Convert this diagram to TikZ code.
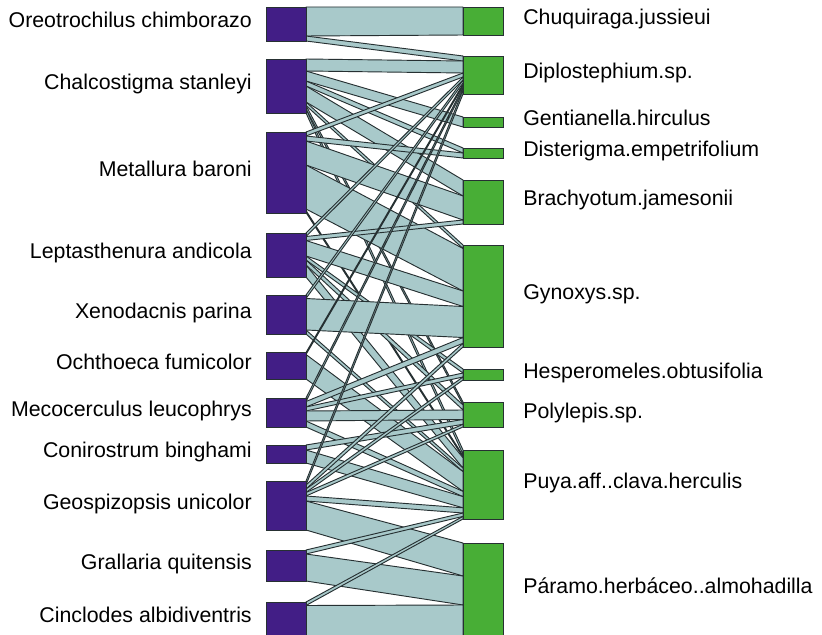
\documentclass[tikz,border=0pt]{standalone}
\usepackage{fontspec}
\setmainfont{Liberation Sans}
\definecolor{birdcol}{RGB}{66,30,134}
\definecolor{plantcol}{RGB}{72,174,54}
\definecolor{linkcol}{RGB}{168,201,202}
\definecolor{edgecol}{RGB}{38,48,50}
\newcommand{\wlink}[4]{\draw[link] (306,#1) -- (463,#3) -- (463,#4) -- (306,#2) -- cycle;}

\begin{document}
\begin{tikzpicture}[x=0.75pt, y=-0.75pt,
  link/.style={fill=linkcol, draw=edgecol, line width=0.7pt, line join=round},
  bird/.style={fill=birdcol, draw=edgecol, line width=0.7pt},
  plant/.style={fill=plantcol, draw=edgecol, line width=0.7pt},
  lname/.style={anchor=mid east, inner sep=0pt, font=\fontsize{16pt}{19pt}\selectfont},
  rname/.style={anchor=mid west, inner sep=0pt, font=\fontsize{16pt}{19pt}\selectfont}]
  \useasboundingbox (0,0) rectangle (822,635);
  \clip (0,0) rectangle (822,635);

  \wlink{7}{36}{7}{35}
  \wlink{36}{41}{56}{61}

  \wlink{59}{71}{61}{73}
  \wlink{71}{81}{117}{127}
  \wlink{81}{86}{148}{153}
  \wlink{86}{102}{180}{196}
  \wlink{102}{105.5}{245}{248.5}
  \wlink{105.5}{109}{402}{405}
  \wlink{109}{113}{450}{454.3}

  \wlink{132}{136}{73}{77}
  \wlink{136}{141}{153}{158}
  \wlink{141}{165}{196}{220}
  \wlink{165}{209}{248.5}{291}
  \wlink{210.5}{212.5}{455.5}{457.3}

  \wlink{233}{236.5}{77}{80}
  \wlink{236.5}{240.5}{220}{224}
  \wlink{240.5}{256}{291}{306.5}
  \wlink{256}{260}{369}{373}
  \wlink{260}{265}{405}{410}
  \wlink{265}{277}{457.8}{468.1}

  \wlink{295}{298.5}{80}{83}
  \wlink{298.5}{330}{306.5}{337.5}
  \wlink{330}{334}{468.1}{471.6}

  \wlink{352.5}{354.5}{84}{86}
  \wlink{354.5}{379}{471.6}{491.4}

  \wlink{398}{401.5}{87}{90}
  \wlink{401.5}{407}{337.5}{343.3}
  \wlink{407}{411}{373}{377}
  \wlink{411}{421}{410}{419.5}
  \wlink{421}{427}{491.4}{496.6}

  \wlink{445}{450}{419.5}{424.3}
  \wlink{450}{463}{496.6}{507.8}

  \wlink{481}{485}{90}{94}
  \wlink{485}{489}{343.3}{347}
  \wlink{489}{492.5}{377}{380}
  \wlink{492.5}{496}{424.3}{427}
  \wlink{496}{501}{507.8}{513}
  \wlink{501}{530}{543}{576}

  \wlink{550}{554}{513}{516.4}
  \wlink{554}{581}{576}{605}

  \wlink{602}{605.5}{516.4}{519}
  \wlink{605.5}{640}{605}{640}

  \draw[bird] (266,7) rectangle (306,41);
  \draw[bird] (266,59) rectangle (306,113);
  \draw[bird] (266,132) rectangle (306,213);
  \draw[bird] (266,233) rectangle (306,277);
  \draw[bird] (266,295) rectangle (306,334);
  \draw[bird] (266,352) rectangle (306,379);
  \draw[bird] (266,398) rectangle (306,427);
  \draw[bird] (266,445) rectangle (306,463);
  \draw[bird] (266,481) rectangle (306,530);
  \draw[bird] (266,550) rectangle (306,581);
  \draw[bird] (266,602) rectangle (306,640);

  \draw[plant] (463,7) rectangle (503,35);
  \draw[plant] (463,56) rectangle (503,94);
  \draw[plant] (463,117) rectangle (503,127);
  \draw[plant] (463,148) rectangle (503,158);
  \draw[plant] (463,180) rectangle (503,224);
  \draw[plant] (463,245) rectangle (503,347);
  \draw[plant] (463,369) rectangle (503,380);
  \draw[plant] (463,402) rectangle (503,427);
  \draw[plant] (463,450) rectangle (503,519);
  \draw[plant] (463,543) rectangle (503,640);

  \node[lname] (oreo) at (252,24) {Oreotrochilus chimborazo};
  \node[lname] (chalco) at (252,86) {Chalcostigma stanleyi};
  \node[lname] (metal) at (252,172.5) {Metallura baroni};
  \node[lname] (lepta) at (252,255) {Leptasthenura andicola};
  \node[lname] (xeno) at (252,314.5) {Xenodacnis parina};
  \node[lname] (ochth) at (252,365.5) {Ochthoeca fumicolor};
  \node[lname] (meco) at (252,412.5) {Mecocerculus leucophrys};
  \node[lname] (coni) at (252,454) {Conirostrum binghami};
  \node[lname] (geos) at (252,505.5) {Geospizopsis unicolor};
  \node[lname] (grall) at (252,565.5) {Grallaria quitensis};
  \node[lname] (cincl) at (252,619) {Cinclodes albidiventris};

  \node[rname] (chuq) at (523,21) {Chuquiraga.jussieui};
  \node[rname] (diplo) at (523,75) {Diplostephium.sp.};
  \node[rname] (genti) at (523,122) {Gentianella.hirculus};
  \node[rname] (diste) at (523,153) {Disterigma.empetrifolium};
  \node[rname] (brach) at (523,202) {Brachyotum.jamesonii};
  \node[rname] (gynox) at (523,296) {Gynoxys.sp.};
  \node[rname] (hespe) at (523,374.5) {Hesperomeles.obtusifolia};
  \node[rname] (polyl) at (523,414.5) {Polylepis.sp.};
  \node[rname] (puya) at (523,484.5) {Puya.aff..clava.herculis};
  \node[rname] (param) at (523,590) {Páramo.herbáceo..almohadilla};
\end{tikzpicture}
\end{document}
